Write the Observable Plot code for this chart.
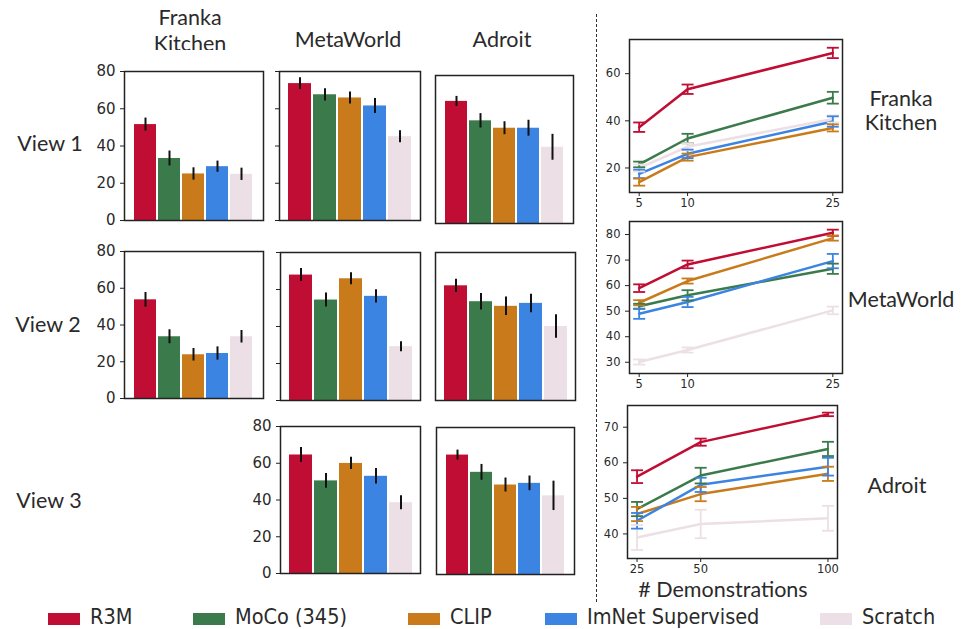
<!DOCTYPE html>
<html>
<head>
<meta charset="utf-8">
<script src="https://cdn.jsdelivr.net/npm/d3@7"></script>
<script src="https://cdn.jsdelivr.net/npm/@observablehq/plot@0.6"></script>
<style>
  body { margin: 0; background: #fff; }
  #root { position: relative; width: 961px; height: 629px; background: #fff; overflow: hidden; }
  .lbl { position: absolute; font-family: Lato, "Noto Sans", sans-serif; color: #2a2a2a; white-space: nowrap; transform: translate(-50%, -50%); line-height: 1; }
  .leg { position: absolute; font-family: "DejaVu Sans Condensed", "DejaVu Sans", sans-serif; font-stretch: condensed; font-size: 21.5px; color: #2a2a2a; white-space: nowrap; line-height: 1; }
  .sw { position: absolute; width: 32px; height: 12px; }
  svg { position: absolute; overflow: visible; }
</style>
</head>
<body>
<div id="root"></div>
<script>
// ---------- data ----------
const methods = ["R3M", "MoCo (345)", "CLIP", "ImNet Supervised", "Scratch"];
const colors = ["#c00d33", "#3b7a4b", "#c97b1c", "#3b84e2", "#ecdfe5"];
const envs = ["Franka\nKitchen", "MetaWorld", "Adroit"];
const views = ["View 1", "View 2", "View 3"];
const xTitle = "# Demonstrations";
const barTicks = [0, 20, 40, 60, 80];

// bar panels: mean success rate and error half-width, per method
const v1_fk = [51.5, 33.3, 25.0, 28.9, 24.8];
const v1_fk_err = [3.5, 4.0, 3.3, 3.0, 3.3];
const v1_mw = [73.5, 67.5, 65.8, 61.5, 45.0];
const v1_mw_err = [3.2, 3.3, 3.2, 4.0, 3.2];
const v1_ad = [66.0, 55.5, 51.5, 51.5, 41.2];
const v1_ad_err = [2.7, 3.9, 3.5, 4.3, 7.0];
const v2_fk = [53.7, 33.6, 23.8, 24.5, 33.6];
const v2_fk_err = [4.0, 3.8, 3.4, 3.6, 3.4];
const v2_mw = [67.8, 54.3, 65.8, 56.3, 29.1];
const v2_mw_err = [3.5, 3.8, 3.2, 3.6, 2.7];
const v2_ad = [62.0, 53.4, 50.9, 52.5, 40.0];
const v2_ad_err = [3.6, 4.5, 5.0, 5.0, 6.3];
const v3_mw = [64.5, 50.4, 59.9, 52.9, 38.5];
const v3_mw_err = [4.1, 4.0, 3.3, 4.2, 3.8];
const v3_ad = [65.0, 55.6, 48.7, 49.6, 42.8];
const v3_ad_err = [2.7, 4.3, 3.8, 4.0, 8.0];

// line panels: success vs # demonstrations
const fk_demos = [5, 10, 25];
const fk_vals = [[37.3, 53.4, 68.8], [21.5, 32.5, 49.8], [14.0, 24.6, 37.0], [17.5, 26.0, 39.7], [20.0, 29.0, 40.8]];
const fk_errs = [[2.0, 2.0, 2.2], [1.2, 2.0, 2.5], [1.5, 1.5, 1.5], [1.8, 1.8, 2.2], [1.5, 1.5, 1.5]];
const fk_yticks = [20, 40, 60];
const mw_demos = [5, 10, 25];
const mw_vals = [[59.0, 68.3, 80.7], [51.9, 56.2, 66.6], [53.3, 61.8, 78.6], [49.0, 53.6, 69.6], [30.1, 34.8, 50.3]];
const mw_errs = [[1.5, 1.5, 1.2], [1.0, 2.0, 2.0], [1.0, 1.0, 1.0], [2.0, 2.0, 2.8], [1.0, 1.0, 1.5]];
const mw_yticks = [30, 40, 50, 60, 70, 80];
const ad_demos = [25, 50, 100];
const ad_vals = [[56.1, 65.8, 73.6], [47.0, 56.4, 63.9], [45.6, 51.2, 56.9], [43.7, 53.8, 58.9], [39.0, 42.8, 44.4]];
const ad_errs = [[1.8, 1.0, 0.5], [2.0, 2.2, 2.0], [2.0, 2.0, 2.0], [2.2, 2.0, 2.5], [3.5, 4.0, 3.5]];
const ad_yticks = [40, 50, 60, 70];

// ---------- layout ----------
const root = document.getElementById("root");
const colorScale = {domain: methods, range: colors};

function place(svg, left, top) {
  svg.style.left = left + "px";
  svg.style.top = top + "px";
  root.appendChild(svg);
}

function barPanel(vals, errs, frame, labels, ticks) {
  const [L, T, R, B] = frame;
  const ml = 44, mr = 4, mt = 12, mb = 12;
  const data = methods.map((m, i) => ({method: m, value: vals[i], lo: vals[i] - errs[i], hi: vals[i] + errs[i]}));
  const marks = [
    Plot.barY(data, {x: "method", y: "value", fill: "method"}),
    Plot.ruleX(data, {x: "method", y1: "lo", y2: "hi", stroke: "#111", strokeWidth: 2})
  ];
  if (ticks) marks.push(Plot.axisY({ticks: barTicks, tickSize: 4, label: null, tickFormat: labels ? (d => d) : (() => ""), stroke: "#222"}));
  marks.push(Plot.frame({stroke: "#222", strokeWidth: 1.5}));
  const svg = Plot.plot({
    width: R - L + ml + mr, height: B - T + mt + mb,
    marginLeft: ml, marginRight: mr, marginTop: mt, marginBottom: mb,
    style: {fontSize: "15px", fontFamily: "DejaVu Sans, sans-serif", color: "#2a2a2a", background: "transparent"},
    x: {domain: methods, paddingInner: 0.08, paddingOuter: 0.34, axis: null},
    y: {domain: [0, 80], axis: null},
    color: colorScale,
    marks
  });
  place(svg, L - ml, T - mt);
}

const hline = {draw(context, size) { const r = Math.sqrt(size / Math.PI); context.moveTo(-r, 0); context.lineTo(r, 0); }};

function linePanel(xs, vals, errs, xDomain, yDomain, yticks, frame) {
  const [L, T, R, B] = frame;
  const ml = 30, mr = 14, mt = 8, mb = 20;
  const order = [4, 0, 1, 2, 3];
  const data = [];
  for (const i of order) xs.forEach((x, j) => data.push({method: methods[i], x, y: vals[i][j], lo: vals[i][j] - errs[i][j], hi: vals[i][j] + errs[i][j]}));
  const svg = Plot.plot({
    width: R - L + ml + mr, height: B - T + mt + mb,
    marginLeft: ml, marginRight: mr, marginTop: mt, marginBottom: mb,
    style: {fontSize: "11.5px", fontFamily: "DejaVu Sans, sans-serif", color: "#2a2a2a", background: "transparent"},
    x: {domain: xDomain, axis: null},
    y: {domain: yDomain, axis: null},
    color: colorScale,
    marks: [
      Plot.lineY(data, {x: "x", y: "y", stroke: "method", z: "method", strokeWidth: 2.5}),
      Plot.ruleX(data, {x: "x", y1: "lo", y2: "hi", stroke: "method", strokeWidth: 1.8}),
      Plot.dot(data, {x: "x", y: "lo", symbol: hline, r: 6, stroke: "method", fill: "none", strokeWidth: 1.8}),
      Plot.dot(data, {x: "x", y: "hi", symbol: hline, r: 6, stroke: "method", fill: "none", strokeWidth: 1.8}),
      Plot.axisX({ticks: xs, tickSize: 4, tickPadding: 2, label: null, stroke: "#222"}),
      Plot.axisY({ticks: yticks, tickSize: 4, label: null, stroke: "#222"}),
      Plot.frame({stroke: "#222", strokeWidth: 1.5})
    ]
  });
  place(svg, L - ml, T - mt);
}

// bar panels
barPanel(v1_fk, v1_fk_err, [124, 71, 263, 220], true, true);
barPanel(v1_mw, v1_mw_err, [279, 71, 420, 220], false, true);
barPanel(v1_ad, v1_ad_err, [435, 75, 573, 223], false, false);
barPanel(v2_fk, v2_fk_err, [124, 251, 263, 398], true, true);
barPanel(v2_mw, v2_mw_err, [280, 252, 420, 400], false, true);
barPanel(v2_ad, v2_ad_err, [435, 252, 575, 400], false, false);
barPanel(v3_mw, v3_mw_err, [280, 426, 420, 573], true, true);
barPanel(v3_ad, v3_ad_err, [436, 427, 574, 574], false, false);

// line panels
linePanel(fk_demos, fk_vals, fk_errs, [4, 26], [9.6, 74.5], fk_yticks, [629, 39, 842, 192]);
linePanel(mw_demos, mw_vals, mw_errs, [4, 26], [25.6, 85.1], mw_yticks, [629, 221, 842, 373]);
linePanel(ad_demos, ad_vals, ad_errs, [21.25, 103.75], [33.1, 76.1], ad_yticks, [627, 405, 837, 558]);

// text labels
function label(text, x, y, size, clipBottom) {
  const d = document.createElement("div");
  d.className = "lbl";
  d.textContent = text;
  d.style.left = x + "px";
  d.style.top = y + "px";
  d.style.fontSize = size + "px";
  if (clipBottom) {
    const wrap = document.createElement("div");
    wrap.style.cssText = `position:absolute;left:0;top:0;width:961px;height:${clipBottom}px;overflow:hidden;`;
    wrap.appendChild(d);
    root.appendChild(wrap);
  } else root.appendChild(d);
}
const [fkTitle1, fkTitle2] = envs[0].split("\n");
const fs = 21.5;
label(fkTitle1, 190, 18, fs);
label(fkTitle2, 190, 44, fs, 50);
label(envs[1], 348, 40, fs);
label(envs[2], 502, 40, fs);
label(views[0], 50, 144, fs);
label(views[1], 48, 325, fs);
label(views[2], 49, 501, fs);
label(fkTitle1, 901, 99, fs);
label(fkTitle2, 901, 123, fs);
label(envs[1], 901, 300, fs);
label(envs[2], 897, 486, fs);
label(xTitle, 723, 590, fs);

// dashed divider
const div = document.createElement("div");
div.style.cssText = "position:absolute;left:596px;top:14px;width:0;height:588px;border-left:1.5px dashed #333;";
root.appendChild(div);

// legend
const legendX = [48, 193, 408, 545, 820];
methods.forEach((m, i) => {
  const sw = document.createElement("div");
  sw.className = "sw";
  sw.style.left = legendX[i] + "px";
  sw.style.top = "613px";
  sw.style.background = colors[i];
  root.appendChild(sw);
  const t = document.createElement("div");
  t.className = "leg";
  t.textContent = m;
  t.style.left = (legendX[i] + 42) + "px";
  t.style.top = "606px";
  root.appendChild(t);
});
</script>
</body>
</html>
